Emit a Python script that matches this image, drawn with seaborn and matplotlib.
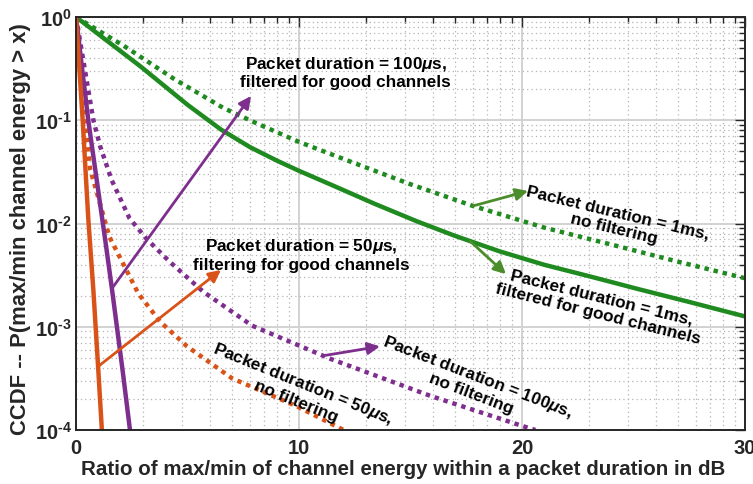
import numpy as np
import pandas as pd
import matplotlib
matplotlib.use("Agg")
import matplotlib.pyplot as plt
import seaborn as sns
from matplotlib.ticker import FixedLocator, FixedFormatter, LogLocator, NullFormatter

# ---- data: x = max/min channel-energy ratio (dB), values = log10(CCDF) ----
x_1ms_nofilt = [0, 2.15, 4.4, 6.6, 8.0, 10.0, 12.3, 15.0, 17.8, 21.0, 24.3, 27.0, 30.0]
logp_1ms_nofilt = [0, -0.28, -0.60, -0.88, -1.02, -1.21, -1.40, -1.62, -1.83, -2.04, -2.22, -2.37, -2.53]

x_1ms_filt = [0, 2.9, 5.0, 6.5, 7.8, 9.0, 10.0, 11.5, 13.4, 15.3, 17.0, 19.0, 21.0, 23.0, 25.3, 27.5, 30.0]
logp_1ms_filt = [0, -0.48, -0.85, -1.09, -1.26, -1.39, -1.49, -1.63, -1.81, -1.98, -2.12, -2.27, -2.40, -2.51, -2.64, -2.76, -2.90]

x_100us_nofilt = [0, 0.78, 1.08, 1.6, 2.4, 3.17, 4.2, 5.7, 7.9, 11.4, 15.9, 20.0, 20.6]
logp_100us_nofilt = [0, -1.0, -1.25, -1.58, -1.95, -2.15, -2.37, -2.66, -2.99, -3.31, -3.67, -3.96, -4.0]

x_100us_filt = [0, 0.55, 1.33, 1.61, 2.1, 2.42]
logp_100us_filt = [0, -1.0, -2.19, -2.63, -3.44, -4.0]

x_50us_nofilt = [0, 0.4, 0.63, 1.5, 2.8, 3.77, 4.98, 7.0, 9.9, 12.0]
logp_50us_nofilt = [0, -1.0, -1.47, -2.13, -2.68, -2.95, -3.19, -3.5, -3.77, -4.0]

x_50us_filt = [0, 0.3, 0.55, 0.78, 1.0, 1.16]
logp_50us_filt = [0, -1.0, -1.95, -2.65, -3.42, -4.0]

x_ticks = [0, 10, 20, 30]
x_ticklabels = ["0", "10", "20", "30"]
y_ticks = [1e-4, 1e-3, 1e-2, 1e-1, 1e0]
y_ticklabels = [r"$10^{\text{-}4}$", r"$10^{\text{-}3}$", r"$10^{\text{-}2}$",
                r"$10^{\text{-}1}$", r"$10^{0}$"]

GREEN = "#1f8a1f"
GREEN_ARROW = "#4b8c2b"
PURPLE = "#7e2f8e"
ORANGE = "#d95319"

sns.set_theme(style="white")
plt.rcParams["font.family"] = ["Liberation Sans", "DejaVu Sans"]
plt.rcParams["font.weight"] = "bold"
plt.rcParams["mathtext.fontset"] = "custom"
plt.rcParams["mathtext.rm"] = "Liberation Sans:bold"
plt.rcParams["mathtext.bf"] = "Liberation Sans:bold"
plt.rcParams["mathtext.it"] = "Liberation Sans:italic:bold"
plt.rcParams["mathtext.default"] = "bf"

fig = plt.figure(figsize=(7.53, 4.85), dpi=100)
ax = fig.add_axes([76 / 753, 1 - 431 / 485, (745 - 76) / 753, (431 - 18) / 485])

series = [
    (x_1ms_nofilt, logp_1ms_nofilt, GREEN, True),
    (x_1ms_filt, logp_1ms_filt, GREEN, False),
    (x_100us_nofilt, logp_100us_nofilt, PURPLE, True),
    (x_50us_nofilt, logp_50us_nofilt, ORANGE, True),
    (x_100us_filt, logp_100us_filt, PURPLE, False),
    (x_50us_filt, logp_50us_filt, ORANGE, False),
]
for xs, lp, col, dotted in series:
    df = pd.DataFrame({"x": xs, "p": 10.0 ** np.asarray(lp)})
    kw = dict(linestyle=(0, (1.0, 1.1)), dash_capstyle="butt") if dotted else dict(solid_capstyle="butt")
    sns.lineplot(data=df, x="x", y="p", ax=ax, color=col, lw=3.2, sort=False,
                 estimator=None, legend=False, **kw)

ax.set_yscale("log")
ax.set_xlim(0, 30)
ax.set_ylim(1e-4, 1)

# x minor ticks repeat a log-style spacing inside every 10 dB interval
x_minor = [d + 10 * np.log10(m) for d in (0, 10, 20) for m in range(2, 10)]
ax.xaxis.set_major_locator(FixedLocator(x_ticks))
ax.xaxis.set_major_formatter(FixedFormatter(x_ticklabels))
ax.xaxis.set_minor_locator(FixedLocator(x_minor))
ax.yaxis.set_major_locator(FixedLocator(y_ticks))
ax.yaxis.set_major_formatter(FixedFormatter(y_ticklabels))
ax.yaxis.set_minor_locator(LogLocator(base=10, subs=np.arange(2, 10)))
ax.yaxis.set_minor_formatter(NullFormatter())

ax.grid(which="major", color="#d2d2d2", lw=1.4, ls="-")
ax.grid(which="minor", color="#b4b4b4", lw=0.9, ls=(0, (1, 2.5)))
ax.set_axisbelow(True)

ax.tick_params(which="both", direction="in", top=True, right=True, color="#262626", width=1.0)
ax.tick_params(which="major", length=7, labelsize=14.5)
ax.tick_params(axis="x", which="major", pad=6)
ax.tick_params(axis="y", which="major", pad=3)
ax.tick_params(which="minor", length=4)
for s in ax.spines.values():
    s.set_color("#262626")
    s.set_linewidth(1.4)

ax.set_xlabel("Ratio of max/min of channel energy within a packet duration in dB",
              fontsize=14.8, fontweight="bold")
ax.set_ylabel("CCDF -- P(max/min channel energy > x)", fontsize=15.8, fontweight="bold")
ax.xaxis.set_label_coords((403 - 76) / 669, (431 - 460) / 413)
ax.yaxis.set_label_coords((31 - 76) / 669, 0.49)


def on_curve(xs, lp, x):
    return x, 10.0 ** np.interp(x, xs, lp)


mu = r"$\mathit{\mu}$"
arrow_kw = dict(arrowstyle="-|>", lw=2.0, mutation_scale=18, shrinkA=0, shrinkB=0)
annotations = [
    # (text, text centre (x, log10 y), rotation, arrow colour, arrow tail on curve, arrow head)
    (f"Packet duration = 100{mu}s,\nfiltered for good channels", (12.1, -0.53), 0,
     PURPLE, on_curve(x_100us_filt, logp_100us_filt, 1.61), (7.85, -0.765)),
    (f"Packet duration = 50{mu}s,\nfiltering for good channels", (10.09, -2.295), 0,
     ORANGE, on_curve(x_50us_filt, logp_50us_filt, 0.99), (6.5, -2.45)),
    ("Packet duration = 1ms,\nno filtering", (24.21, -1.966), -13.5,
     GREEN_ARROW, on_curve(x_1ms_nofilt, logp_1ms_nofilt, 17.8), (20.27, -1.685)),
    ("Packet duration = 1ms,\nfiltered for good channels", (23.5, -2.79), -14,
     GREEN_ARROW, on_curve(x_1ms_filt, logp_1ms_filt, 17.67), (19.28, -2.49)),
    (f"Packet duration = 100{mu}s,\nno filtering", (17.89, -3.554), -21,
     PURPLE, on_curve(x_100us_nofilt, logp_100us_nofilt, 11.08), (13.63, -3.19)),
    (f"Packet duration = 50{mu}s,\nno filtering", (10.04, -3.622), -22,
     None, None, None),
]
for txt, (tx, tly), rot, acol, tail, head in annotations:
    if acol is not None:
        ax.annotate("", xy=(head[0], 10.0 ** head[1]), xytext=tail,
                    arrowprops=dict(color=acol, **arrow_kw))
    ax.text(tx, 10.0 ** tly, txt, rotation=rot, rotation_mode="anchor", ha="center",
            va="center", multialignment="center", fontsize=12.3, fontweight="bold",
            color="black", linespacing=1.1)

fig.savefig("out.png", dpi=100)
